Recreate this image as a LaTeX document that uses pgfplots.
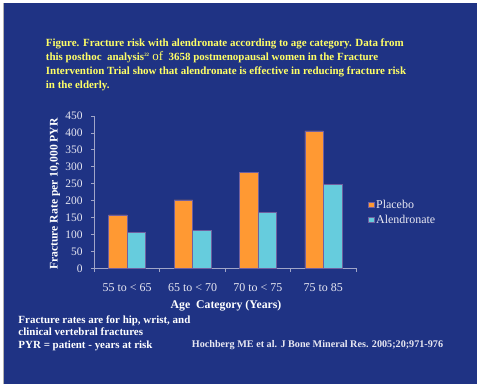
\documentclass[border=0pt]{standalone}
\usepackage{fontspec}
\setmainfont{Liberation Serif}
\usepackage{pgfplots}
\pgfplotsset{compat=1.18}
\definecolor{bgblue}{RGB}{31,51,132}
\definecolor{ttlyellow}{RGB}{255,255,102}
\definecolor{placebo}{RGB}{255,153,51}
\definecolor{alend}{RGB}{102,204,221}
\definecolor{barline}{RGB}{112,96,160}
\definecolor{axline}{RGB}{160,165,200}
\definecolor{txt}{RGB}{232,232,242}
\newcommand{\fs}[1]{\fontsize{#1}{#1}\selectfont}
\begin{document}
\begin{tikzpicture}[x=1bp,y=1bp]
\useasboundingbox (0,0) rectangle (481,387);
\fill[white] (0,0) rectangle (481,387);
\fill[bgblue] (4,3) rectangle (477,384);
\draw[gray!60, line width=0.8bp] (3.5,3) -- (3.5,384);
% title
\begin{scope}[every node/.style={anchor=base west, inner sep=0pt, text=ttlyellow, font=\bfseries\fs{11}}]
\node at (45.7,341) {Figure. Fracture risk with alendronate according to age category. Data from};
\node at (45.7,327) {this posthoc\ \ analysis\textsuperscript{\fs{5}22} {\mdseries\fs{13}of}\ \ 3658 postmenopausal women in the Fracture};
\node at (45.7,313) {Intervention Trial show that alendronate is effective in reducing fracture risk};
\node at (45.7,298.7) {in the elderly.};
\end{scope}
% y label
\node[rotate=90, text=white, font=\bfseries\fs{11.7}, inner sep=0pt] at (55,193) {Fracture Rate per 10,000 PYR};
% x label
\node[anchor=base, text=white, font=\bfseries\fs{11.8}, inner sep=0pt] at (226,78.7) {Age\ \ Category (Years)};
% footnotes
\begin{scope}[every node/.style={anchor=base west, inner sep=0pt, text=white, font=\bfseries\fs{11}}]
\node at (18.3,64) {Fracture rates are for hip, wrist, and};
\node at (18.3,52) {clinical vertebral fractures};
\node at (18.3,38.7) {PYR = patient - years at risk};
\node[text=txt, font=\bfseries\fs{10.2}] at (191.7,39.3) {Hochberg ME et al. J Bone Mineral Res. 2005;20;971-976};
\end{scope}
\begin{axis}[
  at={(94.5bp,118.7bp)}, anchor=south west,
  scale only axis, width=261.5bp, height=152.3bp,
  ybar=0pt, bar width=18.5bp,
  xmin=-0.5, xmax=3.5, ymin=0, ymax=450,
  ytick={0,50,...,450},
  xtick={-0.5,0.5,1.5,2.5,3.5}, xticklabels={},
  extra x ticks={0,1,2,3},
  extra x tick labels={55 to < 65, 65 to < 70, 70 to < 75, 75 to 85},
  extra x tick style={major tick length=0pt},
  axis x line*=bottom, axis y line*=left,
  axis line style={axline, line width=0.8bp},
  tick style={axline, line width=0.8bp},
  tick align=outside, major tick length=3.5bp,
  /pgf/number format/assume math mode=true,
  y tick label style={font=\fs{11.5}, text=txt, xshift=-5bp},
  x tick label style={font=\fs{12}, text=txt, yshift=-12bp},
  legend style={at={(1.046,0.368)}, anchor=west, draw=none, fill=none,
    font=\fs{12}, text=txt, inner sep=0pt, row sep=5.5bp,
    nodes={inner xsep=1.5bp, inner ysep=0pt}},
  legend cell align=left,
  legend image code/.code={\fill[#1] (0bp,-2.8bp) rectangle (5.8bp,2.8bp);},
]
\addplot[fill=placebo, draw=barline, line width=0.6bp] coordinates {(0,158) (1,202) (2,283) (3,406)};
\addplot[fill=alend, draw=barline, line width=0.6bp] coordinates {(0,106) (1,112) (2,165) (3,248)};
\legend{Placebo, Alendronate}
\end{axis}
\end{tikzpicture}
\end{document}
